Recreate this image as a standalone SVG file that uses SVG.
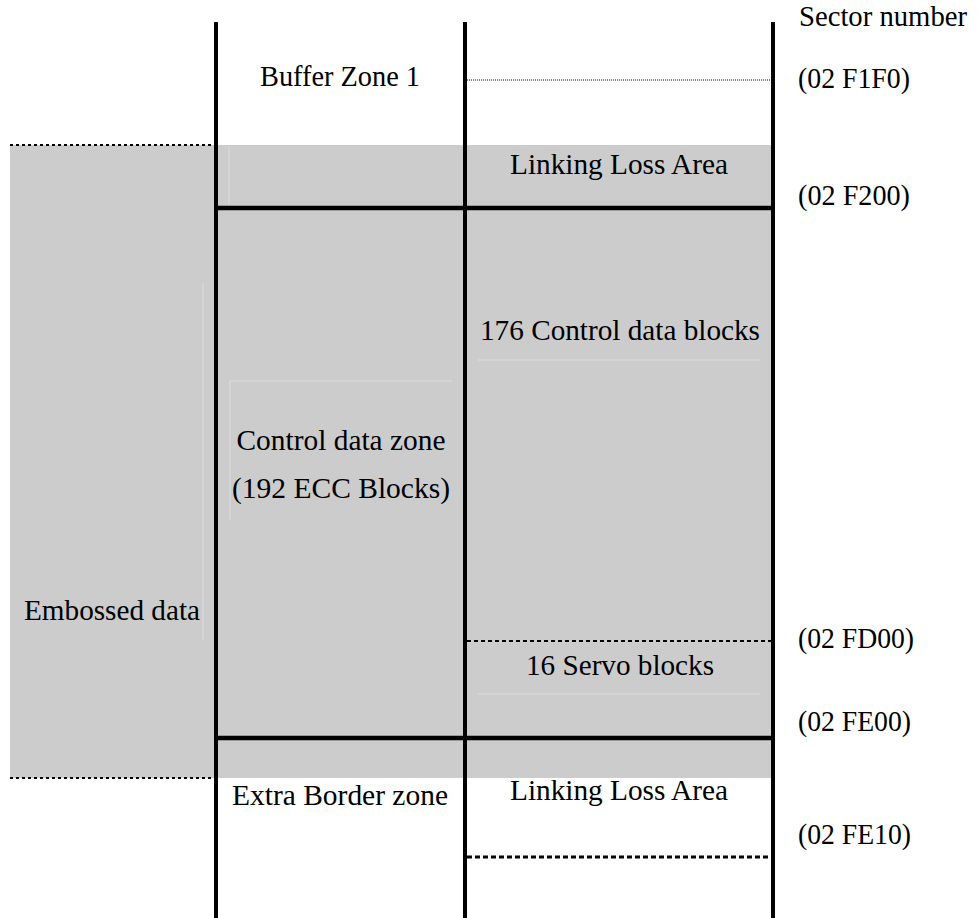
<svg xmlns="http://www.w3.org/2000/svg" width="979" height="918" viewBox="0 0 979 918">
<style>
text{font-family:"Liberation Serif","Times New Roman",serif;font-size:30px;fill:#000}
.c{text-anchor:middle}
.v{stroke:#000;stroke-width:4;fill:none}
.h{stroke:#000;stroke-width:4.5;fill:none}
.faint{stroke:#dcdcdc;stroke-width:1;fill:none}
</style>
<rect width="979" height="918" fill="#fff"/>
<g id="shading">
<rect x="10" y="145" width="762" height="633" fill="#cccccc"/>
</g>
<g id="faint-lines">
<line class="faint" x1="203" y1="283" x2="203" y2="640"/>
<line class="faint" x1="229" y1="147" x2="229" y2="205"/>
<line class="faint" x1="478" y1="360" x2="760" y2="360"/>
<line class="faint" x1="478" y1="694" x2="760" y2="694"/>
<line class="faint" x1="230" y1="381" x2="452" y2="381"/>
<line class="faint" x1="230" y1="381" x2="230" y2="520"/>
</g>
<g id="connectors">
<line class="v" x1="216" y1="22" x2="216" y2="918"/>
<line class="v" x1="465" y1="22" x2="465" y2="918"/>
<line class="v" x1="773" y1="22" x2="773" y2="918"/>
<line class="h" x1="216" y1="208" x2="775" y2="208"/>
<line class="h" x1="216" y1="738" x2="775" y2="738"/>
<line x1="10" y1="145" x2="214" y2="145" stroke="#000" stroke-width="2" stroke-dasharray="3,3"/>
<line x1="10" y1="778" x2="214" y2="778" stroke="#000" stroke-width="2" stroke-dasharray="3,3"/>
<line x1="467" y1="80" x2="771" y2="80" stroke="#000" stroke-width="1" stroke-dasharray="1,1"/>
<line x1="467" y1="641" x2="771" y2="641" stroke="#000" stroke-width="2" stroke-dasharray="4,3"/>
<line x1="467" y1="857" x2="771" y2="857" stroke="#000" stroke-width="3" stroke-dasharray="5,3"/>
</g>
<g id="sector-labels">
<text x="799" y="26" textLength="168" lengthAdjust="spacingAndGlyphs">Sector number</text>
<text x="798" y="88" textLength="112" lengthAdjust="spacingAndGlyphs">(02 F1F0)</text>
<text x="798" y="205" textLength="112" lengthAdjust="spacingAndGlyphs">(02 F200)</text>
<text x="798" y="648" textLength="116" lengthAdjust="spacingAndGlyphs">(02 FD00)</text>
<text x="798" y="731" textLength="113" lengthAdjust="spacingAndGlyphs">(02 FE00)</text>
<text x="798" y="844" textLength="113" lengthAdjust="spacingAndGlyphs">(02 FE10)</text>
</g>
<g id="buffer-zone-1"><text class="c" x="340" y="86" textLength="160" lengthAdjust="spacingAndGlyphs">Buffer Zone 1</text></g>
<g id="linking-loss-top"><text class="c" x="619" y="174" textLength="218" lengthAdjust="spacingAndGlyphs">Linking Loss Area</text></g>
<g id="control-data-blocks"><text class="c" x="620" y="340" textLength="280" lengthAdjust="spacingAndGlyphs">176 Control data blocks</text></g>
<g id="control-data-zone">
<text class="c" x="341" y="450" textLength="209" lengthAdjust="spacingAndGlyphs">Control data zone</text>
<text class="c" x="341" y="498" textLength="218" lengthAdjust="spacingAndGlyphs">(192 ECC Blocks)</text>
</g>
<g id="embossed-data"><text class="c" x="112" y="620" textLength="176" lengthAdjust="spacingAndGlyphs">Embossed data</text></g>
<g id="servo-blocks"><text class="c" x="620" y="675" textLength="188" lengthAdjust="spacingAndGlyphs">16 Servo blocks</text></g>
<g id="extra-border-zone"><text class="c" x="340" y="805" textLength="216" lengthAdjust="spacingAndGlyphs">Extra Border zone</text></g>
<g id="linking-loss-bottom"><text class="c" x="619" y="800" textLength="218" lengthAdjust="spacingAndGlyphs">Linking Loss Area</text></g>
</svg>
